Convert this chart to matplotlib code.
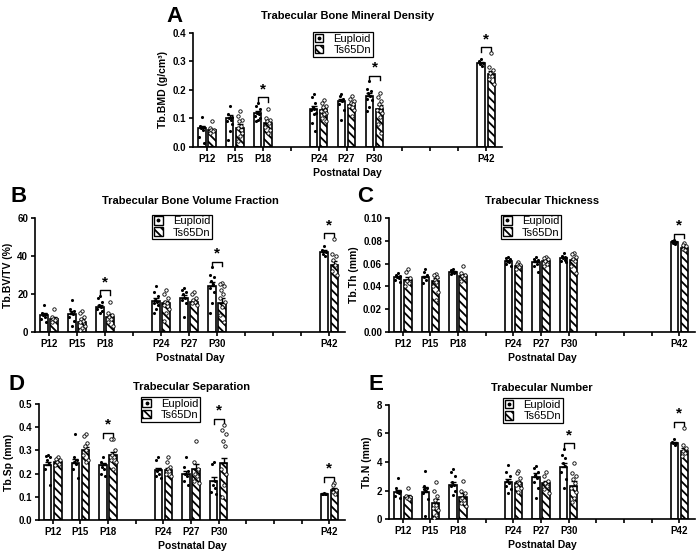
import numpy as np
import matplotlib
matplotlib.use("Agg")
import matplotlib.pyplot as plt
from matplotlib.patches import Patch
from matplotlib.lines import Line2D
from matplotlib.legend_handler import HandlerTuple

plt.rcParams['font.family'] = ['Liberation Sans', 'DejaVu Sans']
plt.rcParams['hatch.linewidth'] = 1.3

days = [12, 15, 18, 24, 27, 30, 42]
tick_days = [12, 15, 18, 21, 24, 27, 30, 33, 36, 39, 42]
tick_labels = ["P12", "P15", "P18", "", "P24", "P27", "P30", "", "", "", "P42"]

# ──────────────────────────────────────────────
# DATA
# ──────────────────────────────────────────────
# A - Tb.BMD (g/cm3)
bmd_eu_mean = [0.065, 0.100, 0.118, 0.133, 0.160, 0.178, 0.295]
bmd_ts_mean = [0.058, 0.068, 0.085, 0.130, 0.148, 0.133, 0.255]
bmd_eu_sem = [0.010, 0.012, 0.007, 0.012, 0.010, 0.011, 0.003]
bmd_ts_sem = [0.005, 0.011, 0.009, 0.008, 0.008, 0.013, 0.012]
bmd_eu_pts = [[0.105, 0.075, 0.07, 0.065, 0.06, 0.035, 0.015],
              [0.145, 0.115, 0.105, 0.10, 0.095, 0.09, 0.08, 0.055, 0.025],
              [0.155, 0.145, 0.135, 0.12, 0.115, 0.11, 0.10, 0.095, 0.09],
              [0.185, 0.175, 0.155, 0.14, 0.135, 0.13, 0.12, 0.115, 0.085, 0.055],
              [0.185, 0.18, 0.17, 0.165, 0.16, 0.15, 0.13, 0.095],
              [0.23, 0.205, 0.195, 0.19, 0.18, 0.17, 0.165, 0.14, 0.125],
              [0.31, 0.30, 0.295, 0.29, 0.285]]
bmd_ts_pts = [[0.09, 0.065, 0.06, 0.058, 0.055, 0.05],
              [0.125, 0.11, 0.095, 0.09, 0.075, 0.065, 0.05, 0.04, 0.02],
              [0.135, 0.10, 0.095, 0.09, 0.085, 0.07, 0.06, 0.05],
              [0.165, 0.155, 0.145, 0.14, 0.13, 0.125, 0.12, 0.115, 0.10, 0.09],
              [0.18, 0.17, 0.16, 0.155, 0.15, 0.145, 0.13, 0.11],
              [0.19, 0.175, 0.16, 0.15, 0.14, 0.13, 0.12, 0.105, 0.08, 0.05],
              [0.33, 0.28, 0.27, 0.26, 0.25, 0.24, 0.22]]
bmd_sig = [False, False, True, False, False, True, True]

# B - Tb.BV/TV (%)
bv_eu_mean = [9.0, 9.5, 13.0, 16.5, 18.0, 24.0, 42.0]
bv_ts_mean = [7.0, 5.5, 8.0, 15.0, 16.0, 15.5, 35.5]
bv_eu_sem = [1.2, 1.5, 1.1, 1.4, 1.6, 2.3, 0.9]
bv_ts_sem = [0.8, 1.1, 1.4, 1.5, 1.0, 2.2, 2.1]
bv_eu_pts = [[14, 10, 9.5, 9, 8, 7, 5],
             [17, 12, 11, 10, 9.5, 8, 6, 3],
             [19, 18, 16, 14, 13, 12, 11, 10],
             [24, 21, 19, 17, 16, 15, 14, 12, 10],
             [23, 22, 21, 20, 18, 17, 15, 8],
             [34, 30, 29, 27, 25, 23, 21, 15, 10],
             [45, 43, 42, 41, 40]]
bv_ts_pts = [[12, 8, 7, 7, 6.5, 5],
             [11, 10, 8, 7, 6, 5, 3, 2, 1],
             [16, 10, 9, 8, 7, 5, 3],
             [22, 20, 18, 16, 15, 14, 12, 10, 6],
             [21, 20, 18, 17, 16, 15, 14],
             [26, 25, 24, 22, 20, 18, 16, 13, 9, 5],
             [49, 41, 40, 38, 35, 32, 30]]
bv_sig = [False, False, True, False, False, True, True]

# C - Tb.Th (mm)
th_eu_mean = [0.048, 0.048, 0.053, 0.062, 0.061, 0.065, 0.079]
th_ts_mean = [0.046, 0.045, 0.049, 0.058, 0.062, 0.063, 0.074]
th_eu_sem = [0.001, 0.0015, 0.0008, 0.001, 0.0015, 0.001, 0.0008]
th_ts_sem = [0.002, 0.0025, 0.0015, 0.001, 0.001, 0.002, 0.001]
th_eu_pts = [[0.052, 0.05, 0.049, 0.048, 0.047, 0.046, 0.044],
             [0.055, 0.053, 0.05, 0.048, 0.046, 0.043],
             [0.055, 0.054, 0.053, 0.053, 0.052, 0.051],
             [0.066, 0.065, 0.064, 0.062, 0.061, 0.06, 0.058],
             [0.066, 0.064, 0.063, 0.062, 0.06, 0.058, 0.053],
             [0.069, 0.067, 0.066, 0.065, 0.063, 0.062, 0.061],
             [0.081, 0.080, 0.079, 0.078, 0.077]]
th_ts_pts = [[0.055, 0.053, 0.047, 0.045, 0.043, 0.04],
             [0.051, 0.05, 0.048, 0.046, 0.044, 0.04, 0.035, 0.028],
             [0.058, 0.052, 0.05, 0.049, 0.047, 0.045],
             [0.061, 0.06, 0.059, 0.058, 0.057, 0.055],
             [0.066, 0.065, 0.064, 0.062, 0.06, 0.058],
             [0.069, 0.068, 0.066, 0.064, 0.062, 0.058, 0.052],
             [0.078, 0.076, 0.075, 0.073, 0.072]]
th_sig = [False, False, False, False, False, False, True]

# D - Tb.Sp (mm)
sp_eu_mean = [0.235, 0.245, 0.235, 0.215, 0.198, 0.170, 0.113]
sp_ts_mean = [0.250, 0.300, 0.280, 0.215, 0.220, 0.245, 0.130]
sp_eu_sem = [0.015, 0.020, 0.012, 0.010, 0.013, 0.015, 0.002]
sp_ts_sem = [0.008, 0.015, 0.013, 0.008, 0.020, 0.022, 0.006]
sp_eu_pts = [[0.28, 0.275, 0.27, 0.26, 0.24, 0.22, 0.15],
             [0.37, 0.27, 0.26, 0.25, 0.24, 0.22, 0.18],
             [0.27, 0.25, 0.24, 0.23, 0.22, 0.2, 0.19],
             [0.27, 0.26, 0.22, 0.21, 0.2, 0.19, 0.18],
             [0.27, 0.23, 0.21, 0.2, 0.19, 0.17, 0.15],
             [0.25, 0.24, 0.17, 0.15, 0.14, 0.12, 0.11],
             [0.115, 0.114, 0.113, 0.112, 0.11]]
sp_ts_pts = [[0.27, 0.265, 0.26, 0.25, 0.24, 0.235],
             [0.37, 0.36, 0.33, 0.32, 0.3, 0.28, 0.26, 0.25],
             [0.35, 0.35, 0.3, 0.28, 0.27, 0.26, 0.25, 0.22],
             [0.27, 0.25, 0.23, 0.22, 0.21, 0.2, 0.19],
             [0.34, 0.25, 0.22, 0.2, 0.19, 0.17, 0.16],
             [0.41, 0.39, 0.37, 0.34, 0.32, 0.22, 0.2, 0.15, 0.1],
             [0.16, 0.15, 0.13, 0.12, 0.11]]
sp_sig = [False, False, True, False, False, True, True]

# E - Tb.N
tn_eu_mean = [1.9, 1.9, 2.4, 2.6, 2.95, 3.65, 5.35]
tn_ts_mean = [1.55, 1.1, 1.55, 2.55, 2.5, 2.35, 4.8]
tn_eu_sem = [0.15, 0.35, 0.2, 0.2, 0.25, 0.3, 0.08]
tn_ts_sem = [0.1, 0.3, 0.25, 0.15, 0.2, 0.3, 0.2]
tn_eu_pts = [[2.9, 2.2, 2.0, 1.9, 1.8, 1.6, 1.5],
             [3.4, 2.3, 2.2, 2.1, 2.0, 1.8, 1.4, 0.2],
             [3.5, 3.3, 3.0, 2.6, 2.4, 2.3, 2.0, 1.7],
             [3.8, 3.3, 3.0, 2.7, 2.5, 2.3, 2.1, 1.8],
             [3.7, 3.6, 3.3, 3.1, 2.9, 2.6, 2.2, 1.5],
             [4.9, 4.5, 4.3, 3.9, 3.7, 3.3, 2.8, 2.2],
             [5.6, 5.4, 5.35, 5.3, 5.2]]
tn_ts_pts = [[2.2, 1.6, 1.55, 1.5, 1.4],
             [2.6, 2.0, 1.6, 1.3, 1.0, 0.8, 0.6, 0.3, 0.1],
             [2.7, 2.0, 1.8, 1.5, 1.3, 1.1, 0.9],
             [3.4, 3.2, 2.9, 2.6, 2.5, 2.4, 2.2, 1.9],
             [3.3, 3.0, 2.7, 2.5, 2.3, 2.1, 1.8],
             [3.9, 3.2, 3.0, 2.8, 2.5, 2.2, 1.9, 1.5, 1.2],
             [6.4, 5.2, 5.0, 4.8, 4.6, 4.4]]
tn_sig = [False, False, False, False, False, True, True]

HATCH = '\\\\\\\\'
BAR_W = 0.8
OFF = 0.55


# ──────────────────────────────────────────────
# DRAWING
# ──────────────────────────────────────────────
def spread(n):
    pattern = [0.0, -0.2, 0.2, -0.1, 0.1, -0.26, 0.26]
    return np.array([pattern[i % len(pattern)] for i in range(n)])


def draw_panel(ax, eu_mean, ts_mean, eu_sem, ts_sem, eu_pts, ts_pts, sig,
               ymax, ystep, yfmt, ylabel, title, leg_xy):
    x = np.array(days, dtype=float)
    ax.bar(x - OFF, eu_mean, width=BAR_W, color='white', edgecolor='black', lw=1.2, zorder=2)
    ax.bar(x + OFF, ts_mean, width=BAR_W, color='white', edgecolor='black', lw=1.2,
           hatch=HATCH, zorder=2)
    ax.errorbar(x - OFF, eu_mean, yerr=[np.zeros(len(x)), eu_sem], fmt='none',
                ecolor='black', elinewidth=1.0, capsize=2, capthick=1.0, zorder=3)
    ax.errorbar(x + OFF, ts_mean, yerr=[np.zeros(len(x)), ts_sem], fmt='none',
                ecolor='black', elinewidth=1.0, capsize=2, capthick=1.0, zorder=3)

    for i, d in enumerate(days):
        e = np.array(eu_pts[i]); t = np.array(ts_pts[i])
        ax.scatter(d - OFF + spread(len(e)), e, s=5, c='black', lw=0, zorder=4)
        ax.scatter(d + OFF + spread(len(t)), t, s=6, facecolors='white',
                   edgecolors='black', linewidths=0.6, zorder=4)
        if sig[i]:
            top = max(e.max(), t.max(), eu_mean[i] + eu_sem[i], ts_mean[i] + ts_sem[i])
            yb = top + 0.05 * ymax
            ax.plot([d - OFF, d - OFF, d + OFF, d + OFF],
                    [yb - 0.04 * ymax, yb, yb, yb - 0.04 * ymax],
                    color='black', lw=1.0, clip_on=False)
            ax.text(d, yb + 0.01 * ymax, '*', ha='center', va='bottom',
                    fontsize=11, fontweight='bold')

    ax.set_xlim(10.5, 43.7)
    ax.set_ylim(0, ymax)
    yt = np.arange(0, ymax + ystep / 2, ystep)
    ax.set_yticks(yt)
    ax.set_yticklabels([yfmt.format(v) for v in yt], fontsize=7, fontweight='bold')
    ax.set_xticks(tick_days)
    ax.set_xticklabels(tick_labels, fontsize=7, fontweight='bold')
    ax.tick_params(direction='out', length=3, width=1.2, pad=2)
    for s in ['top', 'right']:
        ax.spines[s].set_visible(False)
    for s in ['left', 'bottom']:
        ax.spines[s].set_linewidth(1.2)
    ax.set_xlabel("Postnatal Day", fontsize=7.5, fontweight='bold', labelpad=3)
    ax.set_ylabel(ylabel, fontsize=7.5, fontweight='bold', labelpad=3)
    ax.set_title(title, fontsize=8, fontweight='bold', pad=10)

    h_eu = (Patch(facecolor='white', edgecolor='black', lw=1.0),
            Line2D([], [], marker='o', color='black', ms=1.8, ls=''))
    h_ts = Patch(facecolor='white', edgecolor='black', hatch=HATCH, lw=1.0)
    leg = ax.legend([h_eu, h_ts], ["Euploid", "Ts65Dn"],
                    handler_map={tuple: HandlerTuple(ndivide=1, pad=0)},
                    loc='upper center', bbox_to_anchor=leg_xy, fontsize=8,
                    frameon=True, fancybox=False, edgecolor='black', framealpha=1,
                    handlelength=0.8, handleheight=0.8, borderpad=0.15,
                    labelspacing=0.1, handletextpad=0.9, borderaxespad=0)
    leg.get_frame().set_linewidth(0.9)


fig = plt.figure(figsize=(7, 5.57), dpi=100)
ax_a = fig.add_axes([0.2757, 0.7361, 0.4414, 0.2047])
ax_b = fig.add_axes([0.050, 0.4040, 0.4429, 0.2047])
ax_c = fig.add_axes([0.5557, 0.4040, 0.4371, 0.2047])
ax_d = fig.add_axes([0.0557, 0.0664, 0.4371, 0.2083])
ax_e = fig.add_axes([0.5557, 0.0682, 0.4371, 0.2047])

draw_panel(ax_a, bmd_eu_mean, bmd_ts_mean, bmd_eu_sem, bmd_ts_sem, bmd_eu_pts, bmd_ts_pts,
           bmd_sig, 0.4, 0.1, "{:.1f}", "Tb.BMD (g/cm³)",
           "Trabecular Bone Mineral Density", (0.485, 1.01))
draw_panel(ax_b, bv_eu_mean, bv_ts_mean, bv_eu_sem, bv_ts_sem, bv_eu_pts, bv_ts_pts,
           bv_sig, 60, 20, "{:.0f}", "Tb.BV/TV (%)",
           "Trabecular Bone Volume Fraction", (0.475, 1.03))
draw_panel(ax_c, th_eu_mean, th_ts_mean, th_eu_sem, th_ts_sem, th_eu_pts, th_ts_pts,
           th_sig, 0.10, 0.02, "{:.2f}", "Tb.Th (mm)",
           "Trabecular Thickness", (0.465, 1.03))
draw_panel(ax_d, sp_eu_mean, sp_ts_mean, sp_eu_sem, sp_ts_sem, sp_eu_pts, sp_ts_pts,
           sp_sig, 0.5, 0.1, "{:.1f}", "Tb.Sp (mm)",
           "Trabecular Separation", (0.43, 1.06))
draw_panel(ax_e, tn_eu_mean, tn_ts_mean, tn_eu_sem, tn_ts_sem, tn_eu_pts, tn_ts_pts,
           tn_sig, 8, 2, "{:.0f}", "Tb.N (mm)",
           "Trabecular Number", (0.47, 1.06))

# panel letters (figure pixels measured from the top-left)
for letter, px, py in [("A", 166, 6), ("B", 10, 186), ("C", 357, 186),
                       ("D", 8, 374), ("E", 368, 374)]:
    fig.text(px / 700, 1 - py / 557, letter, fontsize=16, fontweight='bold',
             ha='left', va='top')

fig.savefig("out.png", dpi=100)
